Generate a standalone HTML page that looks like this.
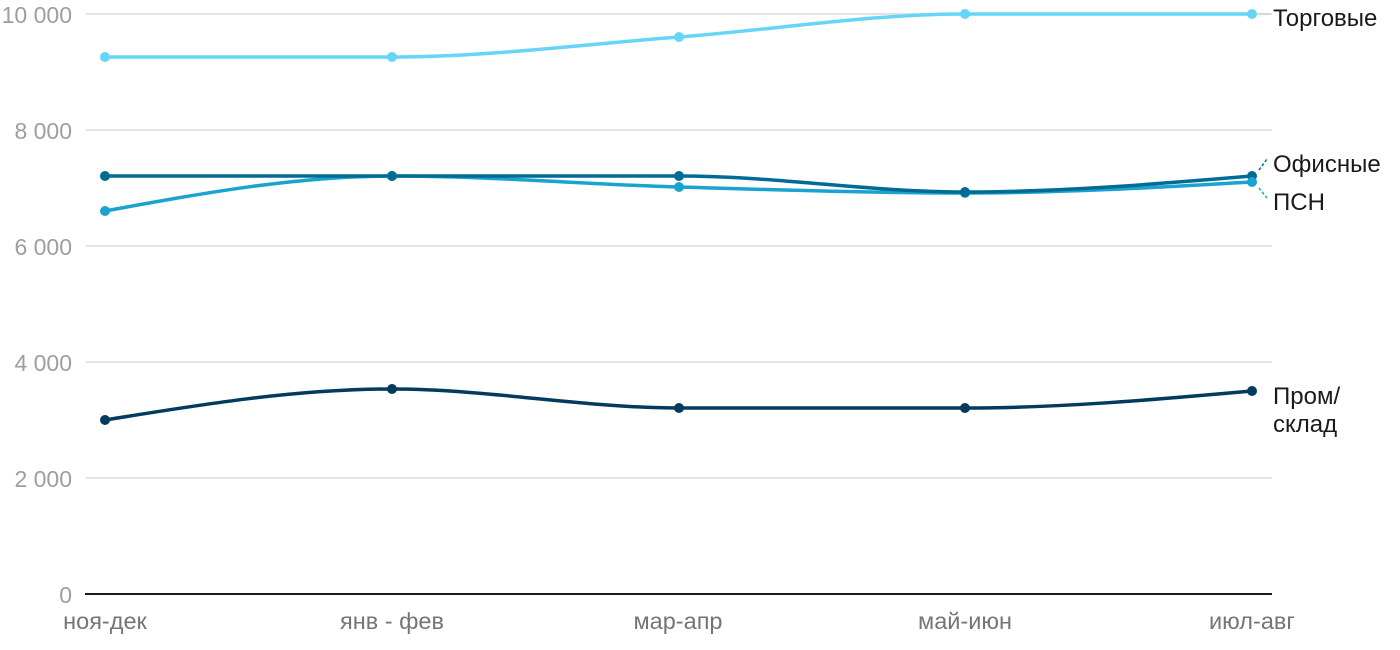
<!DOCTYPE html>
<html>
<head>
<meta charset="utf-8">
<style>
html,body{margin:0;padding:0;background:#fff;}
svg{display:block;}
text{font-family:"Liberation Sans",Arial,sans-serif;}
</style>
</head>
<body>
<svg width="1400" height="650" viewBox="0 0 1400 650" xmlns="http://www.w3.org/2000/svg">
  <!-- gridlines -->
  <g stroke="#e3e3e3" stroke-width="2">
    <line x1="86" y1="14" x2="1272" y2="14"/>
    <line x1="86" y1="130" x2="1272" y2="130"/>
    <line x1="86" y1="246" x2="1272" y2="246"/>
    <line x1="86" y1="362" x2="1272" y2="362"/>
    <line x1="86" y1="478" x2="1272" y2="478"/>
  </g>
  <line x1="85" y1="594" x2="1272" y2="594" stroke="#1a1a1a" stroke-width="2"/>

  <!-- y labels -->
  <g fill="#9e9e9e" font-size="23" text-anchor="end">
    <text x="72" y="23">10 000</text>
    <text x="72" y="139">8 000</text>
    <text x="72" y="255">6 000</text>
    <text x="72" y="371">4 000</text>
    <text x="72" y="487">2 000</text>
    <text x="72" y="603">0</text>
  </g>

  <!-- x labels -->
  <g fill="#757575" font-size="23.5" text-anchor="middle">
    <text x="105" y="629">ноя-дек</text>
    <text x="392" y="629">янв - фев</text>
    <text x="678" y="629">мар-апр</text>
    <text x="965" y="629">май-июн</text>
    <text x="1252" y="629">июл-авг</text>
  </g>

  <!-- Торговые -->
  <path d="M105,57 C200.6,57 296.4,57 392,57 C487.6,57 583.4,44.2 679,37 C774.6,29.8 869.4,14 965,14 C1060.6,14 1156.4,14 1252,14" fill="none" stroke="#66d5f8" stroke-width="3.5"/>
  <g fill="#66d5f8">
    <circle cx="105" cy="57" r="5"/><circle cx="392" cy="57" r="5"/><circle cx="679" cy="37" r="5"/><circle cx="965" cy="14" r="5"/><circle cx="1252" cy="14" r="5"/>
  </g>

  <!-- ПСН -->
  <path d="M105,211 C200.6,193.5 296.4,176 392,176 C487.6,176 583.4,184.2 679,187 C774.6,189.8 869.4,193 965,193 C1060.6,193 1156.4,187.5 1252,182" fill="none" stroke="#1ba3d0" stroke-width="3.5"/>
  <g fill="#1ba3d0">
    <circle cx="105" cy="211" r="5"/><circle cx="392" cy="176" r="5"/><circle cx="679" cy="187" r="5"/><circle cx="965" cy="193" r="5"/>
  </g>

  <!-- Офисные -->
  <path d="M105,176 C200.6,176 296.4,176 392,176 C487.6,176 583.4,176 679,176 C774.6,176 869.4,192 965,192 C1060.6,192 1156.4,184 1252,176" fill="none" stroke="#006c96" stroke-width="3.5"/>
  <g fill="#006c96">
    <circle cx="105" cy="176" r="5"/><circle cx="392" cy="176" r="5"/><circle cx="679" cy="176" r="5"/><circle cx="965" cy="192" r="5"/><circle cx="1252" cy="176" r="5"/>
  </g>
  <circle cx="1252" cy="182" r="5" fill="#1ba3d0"/>

  <!-- Пром/склад -->
  <path d="M105,420 C200.6,404.5 296.4,389 392,389 C487.6,389 583.4,408 679,408 C774.6,408 869.4,408 965,408 C1060.6,408 1156.4,399.5 1252,391" fill="none" stroke="#023b5d" stroke-width="3.5"/>
  <g fill="#023b5d">
    <circle cx="105" cy="420" r="5"/><circle cx="392" cy="389" r="5"/><circle cx="679" cy="408" r="5"/><circle cx="965" cy="408" r="5"/><circle cx="1252" cy="391" r="5"/>
  </g>

  <!-- connectors -->
  <line x1="1258" y1="14" x2="1271" y2="14" stroke="#d0d0d0" stroke-width="1.5"/>
  <line x1="1259" y1="170" x2="1267" y2="159" stroke="#006c96" stroke-width="1.5" stroke-dasharray="3,2"/>
  <line x1="1259" y1="188" x2="1267" y2="198" stroke="#1ba3d0" stroke-width="1.5" stroke-dasharray="3,2"/>

  <!-- series labels -->
  <g fill="#1a1a1a" font-size="24">
    <text x="1273" y="26">Торговые</text>
    <text x="1273" y="172">Офисные</text>
    <text x="1273" y="210">ПСН</text>
    <text x="1273" y="404">Пром/</text>
    <text x="1273" y="432">склад</text>
  </g>
</svg>
</body>
</html>
